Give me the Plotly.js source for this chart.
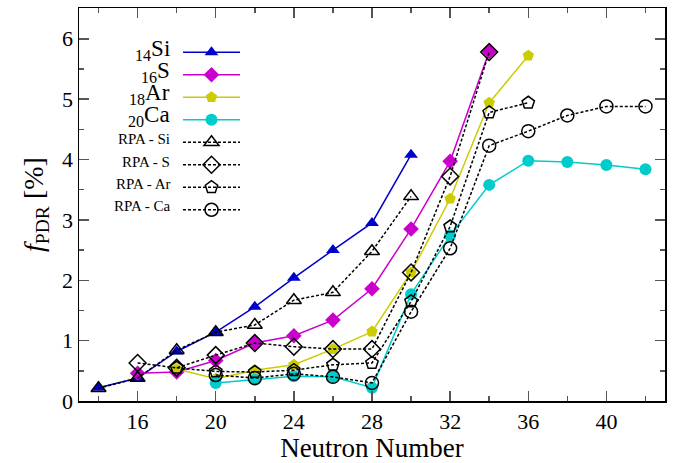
<!DOCTYPE html>
<html>
<head>
<meta charset="utf-8">
<script src="https://cdn.plot.ly/plotly-3.0.1.min.js"></script>
<style>html,body{margin:0;padding:0;background:#fff}#chart{width:683px;height:463px}</style>
</head>
<body>
<div id="chart"></div>
<script>
// Neutron numbers
const nSi = [14, 16, 18, 20, 22, 24, 26, 28, 30];
const nS  = [16, 18, 20, 22, 24, 26, 28, 30, 32, 34];
const nAr = [18, 20, 22, 24, 26, 28, 30, 32, 34, 36];
const nCa = [20, 22, 24, 26, 28, 30, 32, 34, 36, 38, 40, 42];

// f_PDR [%]
const fSi    = [0.22, 0.38, 0.82, 1.14, 1.56, 2.04, 2.50, 2.95, 4.08];
const fS     = [0.46, 0.48, 0.67, 0.96, 1.08, 1.34, 1.86, 2.85, 3.97, 5.79];
const fAr    = [0.53, 0.37, 0.51, 0.60, 0.86, 1.15, 2.13, 3.35, 4.94, 5.72];
const fCa    = [0.30, 0.35, 0.41, 0.40, 0.22, 1.77, 2.74, 3.58, 3.98, 3.96, 3.91, 3.84];
const fRpaSi = [0.21, 0.38, 0.84, 1.14, 1.26, 1.67, 1.80, 2.48, 3.39];
const fRpaS  = [0.63, 0.55, 0.76, 0.96, 0.90, 0.86, 0.86, 2.13, 3.72, 5.78];
const fRpaAr = [0.55, 0.49, 0.48, 0.51, 0.60, 0.63, 1.65, 2.89, 4.78, 4.94];
const fRpaCa = [0.43, 0.38, 0.45, 0.40, 0.30, 1.48, 2.53, 4.23, 4.47, 4.73, 4.88, 4.88];

// Legend labels
const labels = ['<sub>14</sub>Si', '<sub>16</sub>S', '<sub>18</sub>Ar', '<sub>20</sub>Ca',
                'RPA - Si', 'RPA - S', 'RPA - Ar', 'RPA - Ca'];
const xTickVals = [16, 20, 24, 28, 32, 36, 40];
const yTickVals = [0, 1, 2, 3, 4, 5, 6];

const FONT = "'Liberation Serif', 'Times New Roman', serif";

function solid(x, y, color, symbol) {
  return {x: x, y: y, type: 'scatter', mode: 'lines+markers', name: ' ',
    line: {color: color, width: 1.5},
    marker: {symbol: symbol, size: 12, color: color, line: {width: 0}}};
}
function rpa(x, y, symbol) {
  return {x: x, y: y, type: 'scatter', mode: 'lines+markers', name: ' ',
    line: {color: '#000', width: 1.5, dash: '3px,2px'},
    marker: {symbol: symbol, size: 13, color: '#000', line: {width: 1.5, color: '#000'}}};
}

const traces = [
  solid(nSi, fSi, '#0000cc', 'triangle-up'),
  solid(nS, fS, '#cc00cc', 'diamond'),
  solid(nAr, fAr, '#cccc00', 'pentagon'),
  solid(nCa, fCa, '#00cccc', 'circle'),
  rpa(nSi, fRpaSi, 'triangle-up-open'),
  rpa(nS, fRpaS, 'diamond-open'),
  rpa(nAr, fRpaAr, 'pentagon-open'),
  rpa(nCa, fRpaCa, 'circle-open')
];

// legend text drawn to the left of the legend symbols
const L = 79, T = 8, W = 586, H = 393;
const rowY = [50, 72, 94, 116, 139, 162, 184, 206];
const annotations = labels.map((t, i) => ({
  xref: 'paper', yref: 'paper', x: (172 - L) / W, y: (T + H - rowY[i]) / H,
  xanchor: 'right', yanchor: 'middle', showarrow: false, text: t,
  font: {family: FONT, size: i < 4 ? 23 : 15, color: '#000'}
}));

const axisCommon = {
  showgrid: false, zeroline: false, showline: true, linecolor: '#000', linewidth: 1.5,
  mirror: 'ticks', ticks: 'inside', tickcolor: '#555', tickwidth: 1.5, ticklen: 10,
  tickfont: {family: FONT, size: 22, color: '#000'}
};

const layout = {
  width: 683, height: 463,
  font: {family: FONT, color: '#000'},
  margin: {l: L, r: 683 - L - W, t: T, b: 463 - T - H},
  paper_bgcolor: '#fff', plot_bgcolor: '#fff',
  showlegend: true,
  legend: {x: (178 - L) / W, y: (T + H - 36) / H, xanchor: 'left', yanchor: 'top',
    bgcolor: 'rgba(0,0,0,0)', borderwidth: 0, itemwidth: 57,
    font: {family: FONT, size: 15}, tracegroupgap: 0},
  xaxis: Object.assign({}, axisCommon, {
    range: [13, 43], tickvals: xTickVals,
    minor: {dtick: 2, tick0: 14, ticks: 'inside', ticklen: 5, tickcolor: '#555', tickwidth: 1.5},
    title: {text: 'Neutron Number', font: {family: FONT, size: 27, color: '#000'}, standoff: 2}
  }),
  yaxis: Object.assign({}, axisCommon, {
    range: [0, 6.51], tickvals: yTickVals,
    minor: {dtick: 0.5, tick0: 0, ticks: 'inside', ticklen: 5, tickcolor: '#555', tickwidth: 1.5},
    title: {text: '<i>f</i><sub>PDR</sub> [%]', font: {family: FONT, size: 28, color: '#000'}, standoff: 10}
  }),
  annotations: annotations
};

Plotly.newPlot('chart', traces, layout, {staticPlot: true, displayModeBar: false});
</script>
</body>
</html>
